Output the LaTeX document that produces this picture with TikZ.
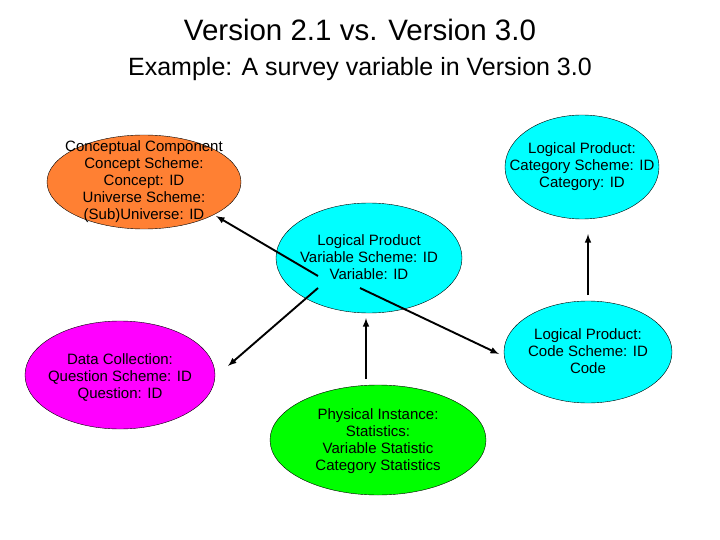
\documentclass[tikz,border=0pt]{standalone}
\usepackage{fontspec}
\setmainfont{Liberation Sans}
\definecolor{cy}{RGB}{0,255,255}
\definecolor{mg}{RGB}{255,0,255}
\definecolor{og}{RGB}{255,128,51}
\definecolor{gr}{RGB}{0,255,0}
\begin{document}
\begin{tikzpicture}[x=1pt,y=-1pt,
  lbl/.style={align=center,font=\fontsize{15}{17}\selectfont},
  arr/.style={-latex,line width=1.9pt}]
\useasboundingbox (0,0) rectangle (720,540);
\node (title) at (360,30) {\fontsize{29.5}{34}\selectfont Version 2.1 vs. Version 3.0};
\node (sub) at (360,69) {\fontsize{25}{29}\selectfont Example: A survey variable in Version 3.0};
\draw[fill=og] (144,182) ellipse (97 and 47);
\node[lbl] (con) at (144,182) {Conceptual Component\\Concept Scheme:\\Concept: ID\\Universe Scheme:\\(Sub)Universe: ID};
\draw[fill=cy] (582,167) ellipse (77 and 52);
\node[lbl] (cat) at (582,167) {Logical Product:\\Category Scheme: ID\\Category: ID};
\draw[fill=cy] (369,258) ellipse (93 and 55);
\node[lbl] (var) at (369,257) {Logical Product\\Variable Scheme: ID\\Variable: ID};
\draw[fill=cy] (588,352) ellipse (84 and 51);
\node[lbl] (code) at (588,351) {Logical Product:\\Code Scheme: ID\\Code};
\draw[fill=mg] (120,375) ellipse (95 and 54);
\node[lbl] (dc) at (120,377) {Data Collection:\\Question Scheme: ID\\Question: ID};
\draw[fill=gr] (378,440) ellipse (108 and 55);
\node[lbl] (phys) at (378,441) {Physical Instance:\\Statistics:\\Variable Statistic\\Category Statistics};
\coordinate (a1s) at (318,276); \coordinate (a1e) at (216,216);
\coordinate (a2s) at (318,288); \coordinate (a2e) at (228,366);
\coordinate (a3s) at (360,288); \coordinate (a3e) at (499,354);
\coordinate (a4s) at (366,379); \coordinate (a4e) at (366,318);
\coordinate (a5s) at (588,295); \coordinate (a5e) at (588,234);
\draw[arr] (a1s) -- (a1e);
\draw[arr] (a2s) -- (a2e);
\draw[arr] (a3s) -- (a3e);
\draw[arr] (a4s) -- (a4e);
\draw[arr] (a5s) -- (a5e);
\end{tikzpicture}
\end{document}
